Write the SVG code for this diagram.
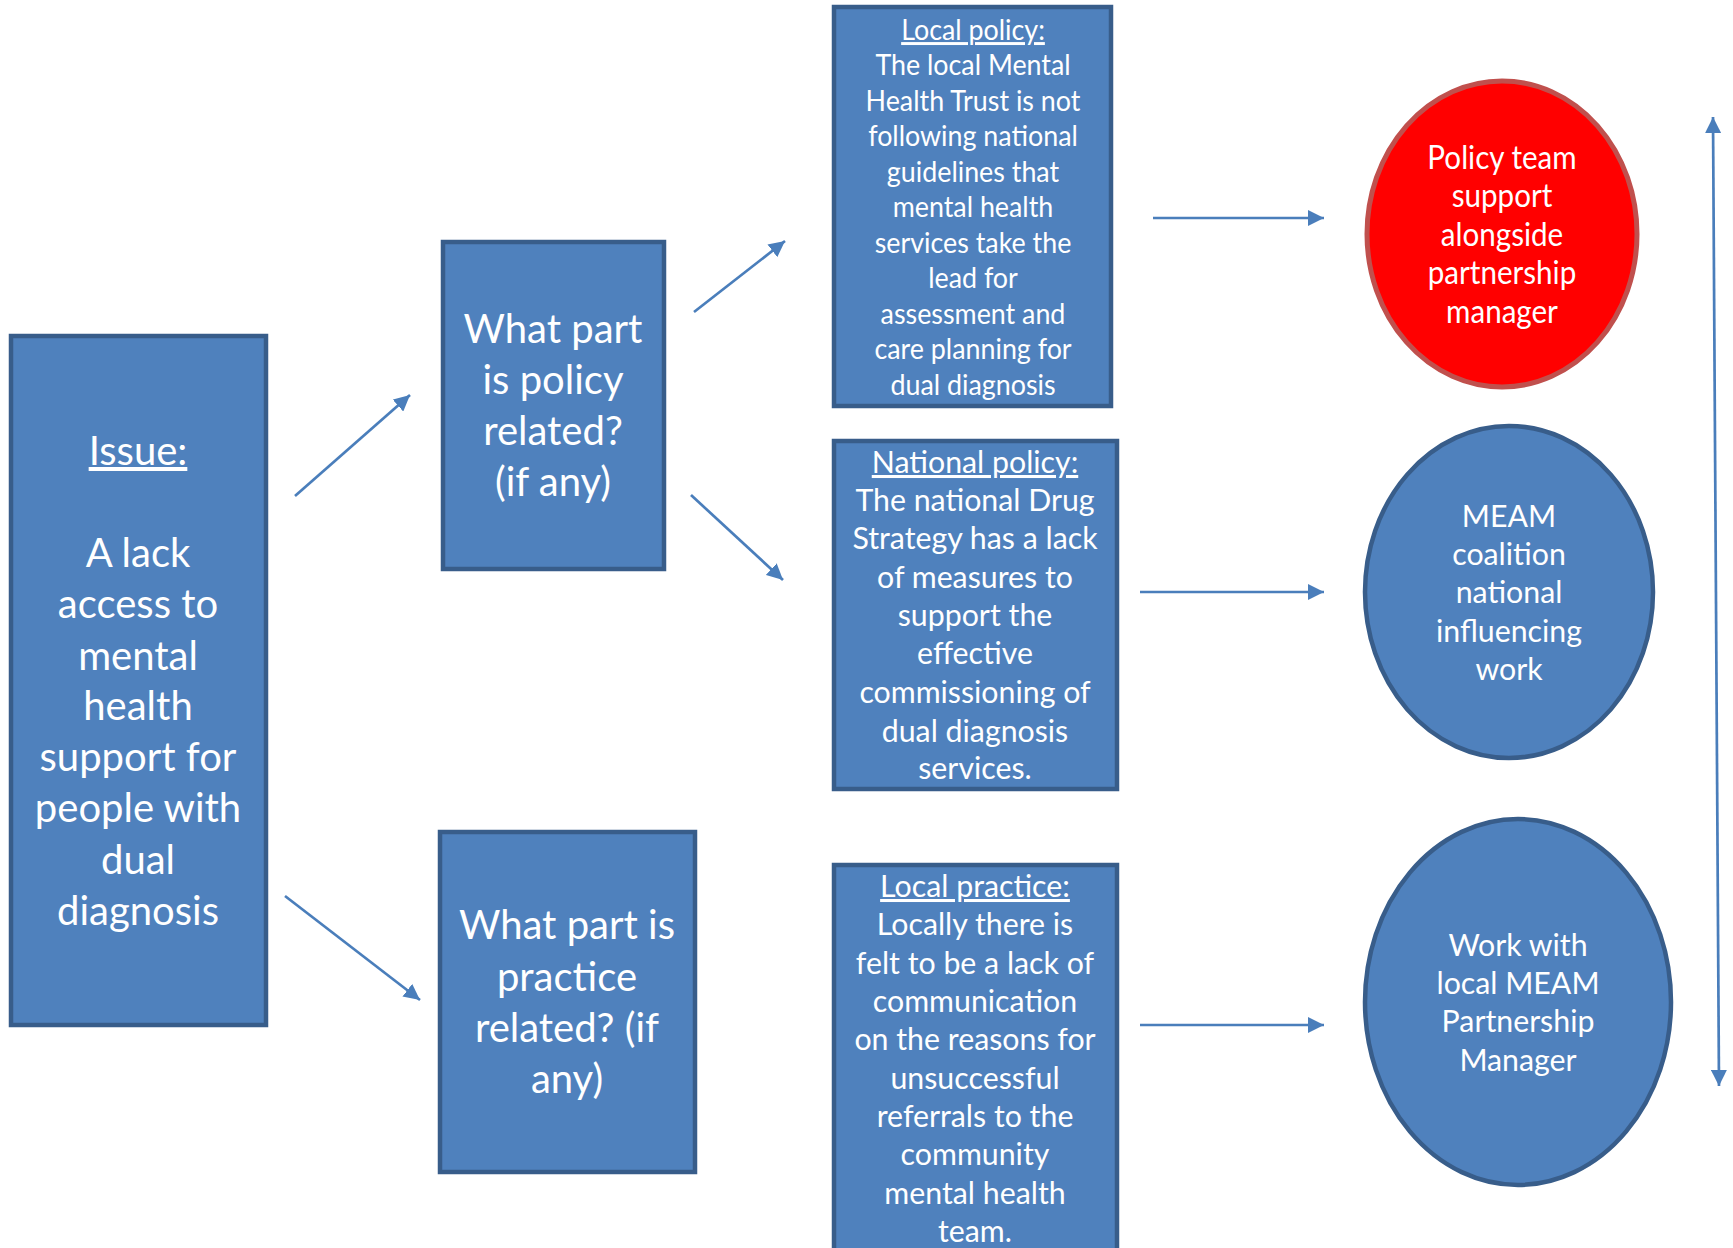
<svg xmlns="http://www.w3.org/2000/svg" width="1733" height="1248" viewBox="0 0 1733 1248">
<style>
.box{fill:#4f81bd;stroke:#385d8a;stroke-width:4.5}
.red{fill:#ff0000;stroke:#c0504d;stroke-width:5}
.ell{fill:#4f81bd;stroke:#385d8a;stroke-width:4.5}
text{font-family:Lato,"Liberation Sans",sans-serif;fill:#ffffff;text-anchor:middle}
.big{font-size:40px}
.mid{font-size:30.3px}
.cond{font-size:29.5px}
.u{text-decoration:underline}
.con{stroke:#4a7ebb;stroke-width:2.7;fill:none}
</style>
<defs>
<marker id="ah" markerUnits="userSpaceOnUse" markerWidth="16" markerHeight="16" refX="15" refY="7.5" orient="auto-start-reverse" viewBox="0 0 15 15">
<path d="M0,0 L15,7.5 L0,15 z" fill="#4a7ebb"/>
</marker>
</defs>
<rect width="1733" height="1248" fill="#ffffff"/>
<g id="connectors">
<line class="con" x1="295" y1="496" x2="410" y2="395" marker-end="url(#ah)"/>
<line class="con" x1="285" y1="896" x2="420" y2="1000" marker-end="url(#ah)"/>
<line class="con" x1="694" y1="312" x2="785" y2="241" marker-end="url(#ah)"/>
<line class="con" x1="691" y1="495" x2="783" y2="580" marker-end="url(#ah)"/>
<line class="con" x1="1153" y1="218" x2="1324" y2="218" marker-end="url(#ah)"/>
<line class="con" x1="1140" y1="592" x2="1324" y2="592" marker-end="url(#ah)"/>
<line class="con" x1="1140" y1="1025" x2="1324" y2="1025" marker-end="url(#ah)"/>
<line class="con" x1="1713" y1="117" x2="1719" y2="1086" marker-start="url(#ah)" marker-end="url(#ah)"/>
</g>
<g id="issue">
<rect class="box" x="11" y="336" width="255" height="689"/>
<text class="big" x="138"><tspan class="u" x="138" y="465">Issue:</tspan><tspan x="138" y="567">A lack</tspan><tspan x="138" y="618">access to</tspan><tspan x="138" y="670">mental</tspan><tspan x="138" y="720">health</tspan><tspan x="138" y="771">support for</tspan><tspan x="138" y="822">people with</tspan><tspan x="138" y="874">dual</tspan><tspan x="138" y="925">diagnosis</tspan></text>
</g>
<g id="policy">
<rect class="box" x="443" y="242" width="221" height="327"/>
<text class="big"><tspan x="553" y="343">What part</tspan><tspan x="553" y="394">is policy</tspan><tspan x="553" y="445">related?</tspan><tspan x="553" y="496">(if any)</tspan></text>
</g>
<g id="practice">
<rect class="box" x="440" y="832" width="255" height="340"/>
<text class="big"><tspan x="567" y="939">What part is</tspan><tspan x="567" y="991">practice</tspan><tspan x="567" y="1042">related? (if</tspan><tspan x="567" y="1093">any)</tspan></text>
</g>
<g id="local-policy">
<rect class="box" x="834" y="7" width="277" height="399"/>
<g transform="translate(973,0) scale(0.91,1)">
<text class="cond"><tspan class="u" x="0" y="40">Local policy:</tspan><tspan x="0" y="75.5">The local Mental</tspan><tspan x="0" y="111">Health Trust is not</tspan><tspan x="0" y="146.5">following national</tspan><tspan x="0" y="182">guidelines that</tspan><tspan x="0" y="217.5">mental health</tspan><tspan x="0" y="253">services take the</tspan><tspan x="0" y="288.5">lead for</tspan><tspan x="0" y="324">assessment and</tspan><tspan x="0" y="359.5">care planning for</tspan><tspan x="0" y="395">dual diagnosis</tspan></text>
</g>
</g>
<g id="national-policy">
<rect class="box" x="834" y="441" width="283" height="348"/>
<text class="mid"><tspan class="u" x="975" y="473">National policy:</tspan><tspan x="975" y="511">The national Drug</tspan><tspan x="975" y="549">Strategy has a lack</tspan><tspan x="975" y="588">of measures to</tspan><tspan x="975" y="626">support the</tspan><tspan x="975" y="664">effective</tspan><tspan x="975" y="703">commissioning of</tspan><tspan x="975" y="742">dual diagnosis</tspan><tspan x="975" y="779">services.</tspan></text>
</g>
<g id="local-practice">
<rect class="box" x="834" y="865" width="283" height="400"/>
<text class="mid"><tspan class="u" x="975" y="897">Local practice:</tspan><tspan x="975" y="935">Locally there is</tspan><tspan x="975" y="973.6">felt to be a lack of</tspan><tspan x="975" y="1012">communication</tspan><tspan x="975" y="1050">on the reasons for</tspan><tspan x="975" y="1088.6">unsuccessful</tspan><tspan x="975" y="1127">referrals to the</tspan><tspan x="975" y="1165">community</tspan><tspan x="975" y="1203.6">mental health</tspan><tspan x="975" y="1242">team.</tspan></text>
</g>
<g id="policy-team">
<ellipse class="red" cx="1502" cy="234" rx="135" ry="153"/>
<g transform="translate(1502,0) scale(0.925,1)">
<text class="cond" style="font-size:32px"><tspan x="0" y="169">Policy team</tspan><tspan x="0" y="207.4">support</tspan><tspan x="0" y="245.8">alongside</tspan><tspan x="0" y="284.2">partnership</tspan><tspan x="0" y="322.6">manager</tspan></text>
</g>
</g>
<g id="meam-coalition">
<ellipse class="ell" cx="1509" cy="592" rx="144" ry="166"/>
<text class="mid"><tspan x="1509" y="527">MEAM</tspan><tspan x="1509" y="565">coalition</tspan><tspan x="1509" y="603">national</tspan><tspan x="1509" y="642">influencing</tspan><tspan x="1509" y="680">work</tspan></text>
</g>
<g id="local-meam">
<ellipse class="ell" cx="1518" cy="1002" rx="153" ry="183"/>
<text class="mid"><tspan x="1518" y="956">Work with</tspan><tspan x="1518" y="994">local MEAM</tspan><tspan x="1518" y="1032">Partnership</tspan><tspan x="1518" y="1071">Manager</tspan></text>
</g>
</svg>
